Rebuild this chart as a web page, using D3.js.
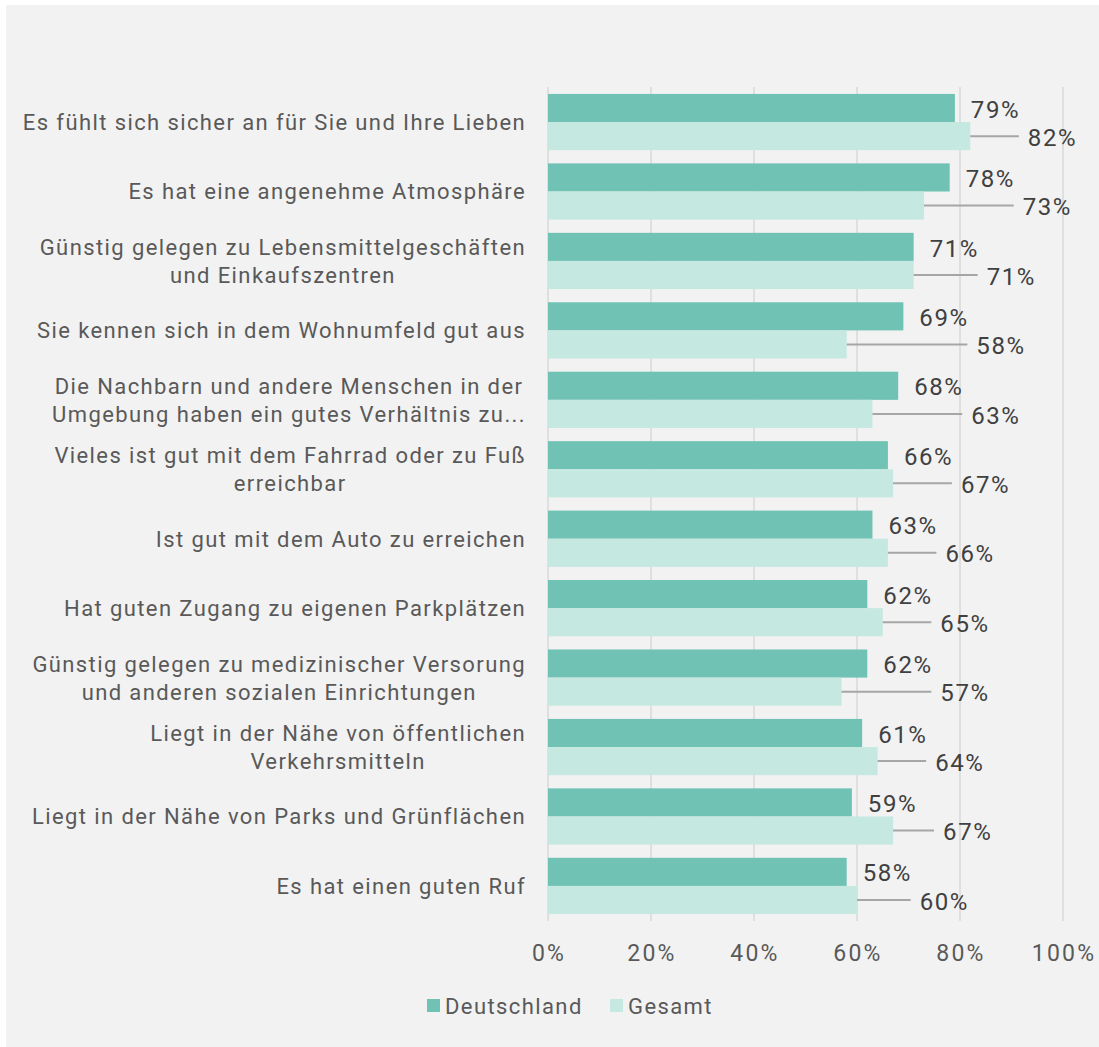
<!DOCTYPE html>
<html>
<head>
<meta charset="utf-8">
<script src="https://cdn.jsdelivr.net/npm/d3@7"></script>
<style>
  html, body { margin: 0; padding: 0; background: #fff; }
  svg { display: block; font-family: Roboto, "Liberation Sans", sans-serif; }
</style>
</head>
<body>
<div id="chart"></div>
<script>
const categories = [
  "Es fühlt sich sicher an für Sie und Ihre Lieben",
  "Es hat eine angenehme Atmosphäre",
  "Günstig gelegen zu Lebensmittelgeschäften\nund Einkaufszentren",
  "Sie kennen sich in dem Wohnumfeld gut aus",
  "Die Nachbarn und andere Menschen in der\nUmgebung haben ein gutes Verhältnis zu...",
  "Vieles ist gut mit dem Fahrrad oder zu Fuß\nerreichbar",
  "Ist gut mit dem Auto zu erreichen",
  "Hat guten Zugang zu eigenen Parkplätzen",
  "Günstig gelegen zu medizinischer Versorung\nund anderen sozialen Einrichtungen",
  "Liegt in der Nähe von öffentlichen\nVerkehrsmitteln",
  "Liegt in der Nähe von Parks und Grünflächen",
  "Es hat einen guten Ruf"
]
const deutschland = [0.79, 0.78, 0.71, 0.69, 0.68, 0.66, 0.63, 0.62, 0.62, 0.61, 0.59, 0.58]
const gesamt = [0.82, 0.73, 0.71, 0.58, 0.63, 0.67, 0.66, 0.65, 0.57, 0.64, 0.67, 0.60]
const ticks = [0, 0.2, 0.4, 0.6, 0.8, 1]
const seriesNames = ["Deutschland", "Gesamt"]

const width = 1099
const height = 1047
const colors = { dark: "#6fc2b4", light: "#c5e8e0", text: "#595959", label: "#404040", grid: "#d9d9d9", leader: "#a6a6a6" }

const rows = categories.map((c, i) => ({ name: c, de: deutschland[i], ge: gesamt[i] }))

const svg = d3.select("#chart")
  .append("svg")
  .attr("width", width)
  .attr("height", height)

svg.append("rect")
  .attr("x", 6).attr("y", 5)
  .attr("width", width - 6).attr("height", height - 5)
  .attr("fill", "#f2f2f2")

const x = d3.scaleLinear().domain([0, 1]).range([548, 1063])
const y = d3.scaleBand().domain(categories).range([87, 921]).paddingInner(0.19).paddingOuter(0.1)
const sub = d3.scaleBand().domain(seriesNames).range([0, y.bandwidth()])

// gridlines
svg.append("g")
  .selectAll("line")
  .data(ticks)
  .join("line")
    .attr("x1", d => x(d)).attr("x2", d => x(d))
    .attr("y1", 87).attr("y2", 921)
    .attr("stroke", colors.grid)
    .attr("stroke-width", 1.5)

// tick labels
svg.append("g")
  .selectAll("text")
  .data(ticks)
  .join("text")
    .attr("x", d => x(d) + 1)
    .attr("y", 953)
    .attr("dy", "0.35em")
    .attr("text-anchor", "middle")
    .attr("font-size", 23)
    .attr("letter-spacing", 2.2)
    .attr("fill", colors.text)
    .text(d3.format(".0%"))

const groups = svg.append("g")
  .selectAll("g")
  .data(rows)
  .join("g")
    .attr("transform", d => `translate(0,${y(d.name)})`)

groups.append("rect")
  .attr("x", x(0))
  .attr("y", sub("Deutschland"))
  .attr("width", d => x(d.de) - x(0))
  .attr("height", sub.bandwidth())
  .attr("fill", colors.dark)

groups.append("rect")
  .attr("x", x(0))
  .attr("y", sub("Gesamt"))
  .attr("width", d => x(d.ge) - x(0))
  .attr("height", sub.bandwidth())
  .attr("fill", colors.light)

const fmt = d3.format(".0%")
const darkLabelX = d => x(d.de) + 16
const lightLabelX = d => Math.max(darkLabelX(d) + 57, x(d.ge) + 50)

groups.append("line")
  .attr("x1", d => x(d.ge))
  .attr("x2", d => lightLabelX(d) - 9)
  .attr("y1", sub("Gesamt") + sub.bandwidth() / 2)
  .attr("y2", sub("Gesamt") + sub.bandwidth() / 2)
  .attr("stroke", colors.leader)
  .attr("stroke-width", 2)

groups.append("text")
  .attr("x", darkLabelX)
  .attr("y", sub("Deutschland") + sub.bandwidth() / 2 + 1)
  .attr("dy", "0.36em")
  .attr("font-size", 24)
  .attr("letter-spacing", 1.6)
  .attr("fill", colors.label)
  .text(d => fmt(d.de))

groups.append("text")
  .attr("x", lightLabelX)
  .attr("y", sub("Gesamt") + sub.bandwidth() / 2 + 1)
  .attr("dy", "0.36em")
  .attr("font-size", 24)
  .attr("letter-spacing", 1.6)
  .attr("fill", colors.label)
  .text(d => fmt(d.ge))

// category labels: block right-aligned, lines centred within block
const catText = groups.append("text")
  .attr("font-size", 22)
  .attr("letter-spacing", 1.4)
  .attr("fill", colors.text)
  .attr("text-anchor", "middle")

catText.each(function(d) {
  const el = d3.select(this)
  const lines = d.name.split("\n")
  const lineH = 28
  const spans = lines.map((line, i) => el.append("tspan")
    .attr("y", y.bandwidth() / 2 + (i - (lines.length - 1) / 2) * lineH)
    .attr("dy", "0.36em")
    .text(line))
  const maxW = d3.max(spans, s => s.node().getComputedTextLength())
  spans.forEach(s => s.attr("x", 526 - maxW / 2))
})

// legend
const legend = svg.append("g")
  .selectAll("g")
  .data(seriesNames)
  .join("g")
    .attr("transform", (d, i) => `translate(${[427, 610][i]},0)`)

legend.append("rect")
  .attr("y", 999)
  .attr("width", 13).attr("height", 13)
  .attr("fill", (d, i) => i ? colors.light : colors.dark)

legend.append("text")
  .attr("x", 18)
  .attr("y", 1006)
  .attr("dy", "0.36em")
  .attr("font-size", 22)
  .attr("letter-spacing", 1.4)
  .attr("fill", colors.text)
  .text(d => d)
</script>
</body>
</html>
